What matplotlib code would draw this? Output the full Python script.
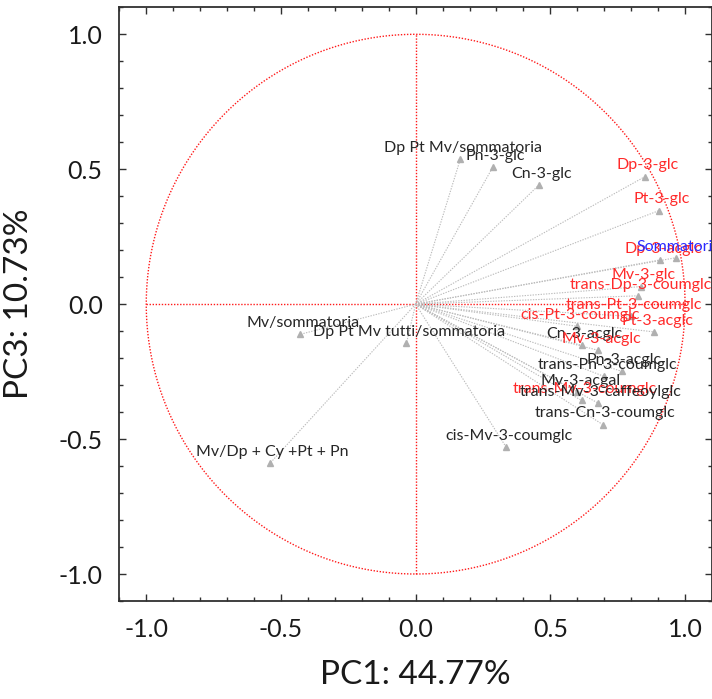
import numpy as np
import matplotlib
matplotlib.use("Agg")
import matplotlib.pyplot as plt
from matplotlib.ticker import MultipleLocator, FormatStrFormatter

plt.rcParams['font.family'] = ['Lato', 'DejaVu Sans']

# Variable loadings (PC1, PC3)
names = [
    "Dp Pt Mv/sommatoria", "Pn-3-glc", "Cn-3-glc", "Dp-3-glc", "Pt-3-glc",
    "Dp-3-acglc", "Sommatoria", "Mv-3-glc", "trans-Dp-3-coumglc",
    "trans-Pt-3-coumglc", "cis-Pt-3-coumglc", "Pt-3-acglc", "Cn-3-acglc",
    "Mv-3-acglc", "Pn-3-acglc", "trans-Pn-3-coumglc", "Mv-3-acgal",
    "trans-Mv-3-coumglc", "trans-Mv-3-caffeoylglc", "trans-Cn-3-coumglc",
    "cis-Mv-3-coumglc", "Mv/sommatoria", "Dp Pt Mv tutti/sommatoria",
    "Mv/Dp + Cy +Pt + Pn",
]
pc1 = [0.166, 0.286, 0.458, 0.852, 0.904,
       0.908, 0.966, 0.835, 0.827,
       0.800, 0.600, 0.886, 0.616,
       0.678, 0.765, 0.700, 0.600,
       0.616, 0.678, 0.694,
       0.336, -0.429, -0.034,
       -0.541]
pc3 = [0.538, 0.507, 0.442, 0.473, 0.347,
       0.164, 0.172, 0.065, 0.031,
       -0.045, -0.082, -0.103, -0.152,
       -0.171, -0.249, -0.268, -0.325,
       -0.357, -0.367, -0.446,
       -0.530, -0.112, -0.144,
       -0.590]
groups = ["k", "k", "k", "r", "r",
          "r", "b", "r", "r",
          "r", "r", "r", "k",
          "r", "k", "k", "k",
          "r", "k", "k",
          "k", "k", "k",
          "k"]
color_map = {"k": "#262626", "r": "#ff2a2a", "b": "#2a2aff"}

xlabel = "PC1: 44.77%"
ylabel = "PC3: 10.73%"

fig = plt.figure(figsize=(7.12, 6.99), dpi=100)
ax = fig.add_axes([119.3 / 712, 98 / 699, 592.7 / 712, 593.7 / 699])

# unit circle and axes lines
t = np.linspace(0, 2 * np.pi, 400)
ax.plot(np.cos(t), np.sin(t), color="#ff1a1a", lw=1.0, ls=(0, (1, 1.2)), zorder=1)
ax.plot([-1, 1], [0, 0], color="#ff1a1a", lw=1.0, ls=(0, (1, 1.2)), zorder=1)
ax.plot([0, 0], [-1, 1], color="#ff1a1a", lw=1.0, ls=(0, (1, 1.2)), zorder=1)

for n, x, y, g in zip(names, pc1, pc3, groups):
    ax.plot([0, x], [0, y], color="#bcbcbc", lw=0.8, ls=(0, (1.2, 1.2)), zorder=2)
    ax.plot([x], [y], marker="^", ms=5, color="#b0b0b0", mec="#b0b0b0", zorder=3)
    ax.annotate(n, (x, y), xytext=(2, 3), textcoords="offset points",
                ha="center", va="bottom", fontsize=11.5, color=color_map[g],
                zorder=4)

ax.set_xlim(-1.1, 1.1)
ax.set_ylim(-1.1, 1.1)
ax.xaxis.set_major_locator(MultipleLocator(0.5))
ax.yaxis.set_major_locator(MultipleLocator(0.5))
ax.xaxis.set_minor_locator(MultipleLocator(0.1))
ax.yaxis.set_minor_locator(MultipleLocator(0.1))
ax.tick_params(which="both", direction="in", top=True, right=True,
               colors="#303030", labelcolor="#1a1a1a")
ax.tick_params(which="major", length=5, width=1.0, labelsize=18, pad=12)
ax.tick_params(which="minor", length=3, width=1.0)
ax.xaxis.set_major_formatter(FormatStrFormatter("%.1f"))
ax.yaxis.set_major_formatter(FormatStrFormatter("%.1f"))
for s in ax.spines.values():
    s.set_color("#303030")
    s.set_linewidth(1.3)

ax.set_xlabel(xlabel, fontsize=24, color="#1a1a1a", labelpad=14)
ax.set_ylabel(ylabel, fontsize=24, color="#1a1a1a", labelpad=18)

fig.savefig("out.png", dpi=100)
